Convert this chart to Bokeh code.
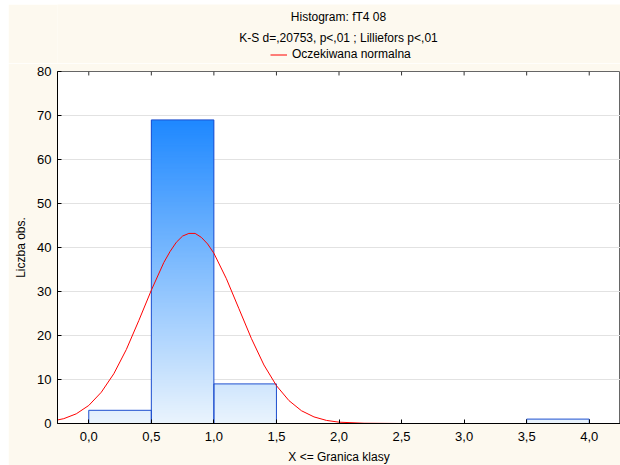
from bokeh.plotting import figure
from bokeh.models import Legend, LegendItem, FixedTicker, Range1d
from bokeh.layouts import column
from bokeh.core.properties import value
from bokeh.embed import file_html
from bokeh.resources import INLINE

# ---------------- data ----------------
title_main = "Histogram: fT4 08"
title_sub = "K-S d=,20753, p<,01 ; Lilliefors p<,01"
legend_label = "Oczekiwana normalna"
x_label = "X <= Granica klasy"
y_label = "Liczba obs."

bin_left = [0.0, 0.5, 1.0, 1.5, 2.0, 2.5, 3.0, 3.5]
bin_right = [0.5, 1.0, 1.5, 2.0, 2.5, 3.0, 3.5, 4.0]
counts = [3, 69, 9, 0, 0, 0, 0, 1]

curve_x = [-0.25, -0.2, -0.1, 0.0, 0.1, 0.2, 0.3, 0.4, 0.5, 0.6, 0.65, 0.7, 0.75,
           0.8, 0.85, 0.9, 0.95, 1.0, 1.1, 1.2, 1.3, 1.4, 1.5, 1.6, 1.7, 1.8,
           1.9, 2.0, 2.2, 2.5, 3.0, 4.25]
curve_y = [0.8, 1.1, 2.2, 4.1, 7.1, 11.3, 16.8, 23.4, 30.3, 36.6, 39.1, 41.2, 42.6,
           43.2, 43.2, 42.3, 40.8, 38.7, 32.9, 26.1, 19.3, 13.3, 8.6, 5.2, 2.9, 1.5,
           0.7, 0.3, 0.06, 0.0, 0.0, 0.0]

x_ticks = [0.0, 0.5, 1.0, 1.5, 2.0, 2.5, 3.0, 3.5, 4.0]
x_tick_labels = ["0,0", "0,5", "1,0", "1,5", "2,0", "2,5", "3,0", "3,5", "4,0"]
y_ticks = [0, 10, 20, 30, 40, 50, 60, 70, 80]

# ---------------- styles ----------------
FONT = "Liberation Sans"
CREAM = "#FDF9EF"
RED = "#FF0000"
TOP_RGB = (30, 136, 255)
BOT_RGB = (234, 244, 253)
W = 612
LEFT = 49
HEAD_H = 59

# ---------------- header (titles + legend) ----------------
# header frame spans the same columns as the main frame; x in header = pixel column
head = figure(width=W, height=HEAD_H, x_range=Range1d(LEFT, W), y_range=Range1d(HEAD_H, 0),
              output_backend="svg", toolbar_location=None, title=None,
              min_border_left=LEFT, min_border_right=0, min_border_top=0,
              min_border_bottom=0, x_axis_type=None, y_axis_type=None,
              background_fill_color=CREAM, border_fill_color=CREAM,
              outline_line_color=None)
head.xgrid.visible = False
head.ygrid.visible = False
head.text(x=[330, 330], y=[12, 33], text=[title_main, title_sub],
          text_align="center", text_baseline="middle", text_font=value(FONT),
          text_font_size="12px", text_color="black")
# legend sample renderer (kept outside the visible header range)
sample = head.line(x=[-100, -90], y=[-100, -100], line_color=RED, line_width=1)
legend = Legend(items=[LegendItem(label=legend_label, renderers=[sample])],
                location=(262 - LEFT, 2), orientation="horizontal",
                border_line_color=None, background_fill_alpha=0,
                padding=0, margin=0, glyph_width=17, glyph_height=13,
                label_height=13, label_standoff=5, label_text_font=FONT,
                label_text_font_size="12px", label_text_color="black")
head.add_layout(legend)

# ---------------- main histogram ----------------
p = figure(frame_width=W - LEFT, frame_height=352, x_range=(-0.25, 4.25), y_range=(0, 80),
           output_backend="svg", toolbar_location=None, title=None,
           min_border_left=LEFT, min_border_right=0, min_border_top=8,
           min_border_bottom=42, border_fill_color=CREAM,
           background_fill_color="white", outline_line_color="#666666")

# gradient fill: overlapping strips from each level up to the bar top (no seams)
step = 0.25
cmax = max(counts)
L, R, B, T, C = [], [], [], [], []
for l, r, c in zip(bin_left, bin_right, counts):
    k = 0
    while k * step < c:
        b = k * step
        mid = min(c, b + step / 2)
        f = mid / cmax
        rgb = tuple(int(round(BOT_RGB[i] + (TOP_RGB[i] - BOT_RGB[i]) * f)) for i in range(3))
        L.append(l); R.append(r); B.append(b); T.append(c)
        C.append("#%02x%02x%02x" % rgb)
        k += 1
p.quad(left=L, right=R, bottom=B, top=T, fill_color=C, line_color=None)
p.quad(left=bin_left, right=bin_right, bottom=[0] * len(counts), top=counts,
       fill_color=None, line_color="#1E4FCF", line_width=1)

curve = p.line(curve_x, curve_y, line_color=RED, line_width=1)

# inward tick marks on the top edge, at the x tick positions
p.segment(x0=x_ticks, x1=x_ticks, y0=[80] * len(x_ticks), y1=[79.1] * len(x_ticks),
          line_color="#333333", line_width=1)

for ax in (p.xaxis[0], p.yaxis[0]):
    ax.major_tick_in = 4
    ax.major_tick_out = 0
    ax.minor_tick_line_color = None
    ax.axis_line_color = "black"
    ax.major_tick_line_color = "black"
    ax.major_label_text_font = FONT
    ax.major_label_text_font_size = "13px"
    ax.major_label_text_color = "black"
    ax.axis_label_text_font = FONT
    ax.axis_label_text_font_size = "12px"
    ax.axis_label_text_font_style = "normal"
    ax.axis_label_text_color = "black"

p.xaxis.ticker = FixedTicker(ticks=x_ticks)
p.xaxis.major_label_overrides = {t: s for t, s in zip(x_ticks, x_tick_labels)}
p.xaxis.axis_label = x_label
p.xaxis.major_label_standoff = 8
p.xaxis.axis_label_standoff = 6
p.yaxis.ticker = FixedTicker(ticks=y_ticks)
p.yaxis.axis_label = y_label
p.yaxis.major_label_standoff = 6
p.yaxis.axis_label_standoff = 6

p.xgrid.grid_line_color = None
p.ygrid.ticker = FixedTicker(ticks=y_ticks)
p.ygrid.grid_line_color = "#E2E2E2"

layout = column(head, p, spacing=0)
layout.margin = (4, 0, 0, 8)
head.margin = 0
p.margin = 0

open("out.html", "w").write(file_html(layout, INLINE))
